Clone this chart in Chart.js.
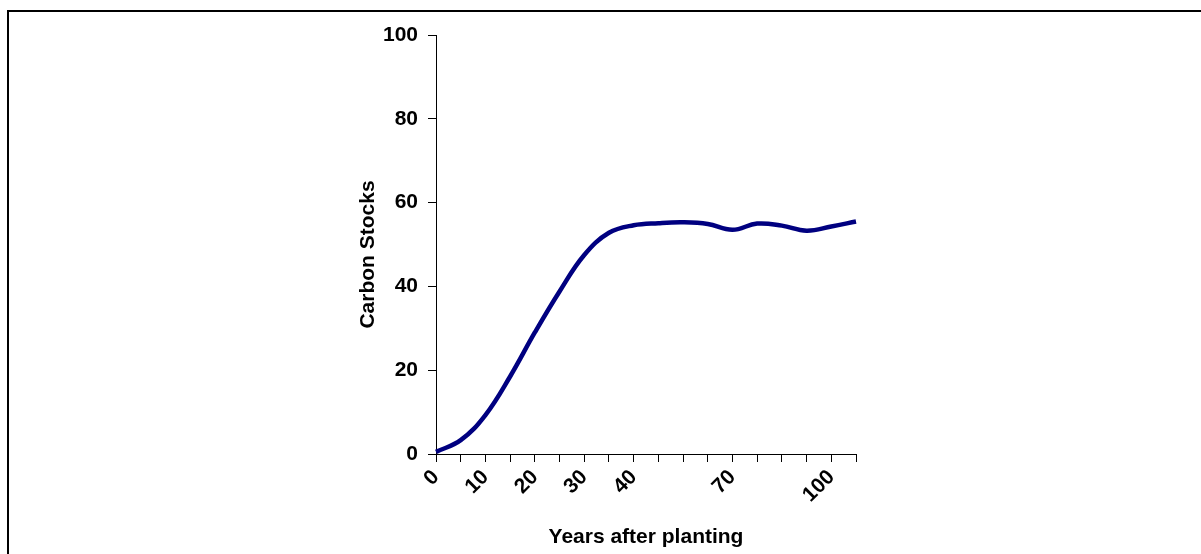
<!DOCTYPE html>
<html>
<head>
<meta charset="utf-8">
<script src="https://cdn.jsdelivr.net/npm/chart.js@4.4.1/dist/chart.umd.min.js"></script>
<style>
  html, body { margin: 0; padding: 0; background: #fff; }
  #wrap { width: 1201px; height: 554px; position: relative; }
</style>
</head>
<body>
<div id="wrap"><canvas id="chart" width="1201" height="554"></canvas></div>
<script>
// tick labels (every other category shown, some left blank as in the original)
const yearLabels = ['0', '', '10', '', '20', '', '30', '', '40', '', '', '', '70', '', '', '', '100', ''];
// carbon stock values, one per category
const carbonStocks = [0.5, 3.3, 9.3, 18.5, 29, 38.8, 47.5, 52.8, 54.6, 55.1, 55.3, 54.9, 53.5, 55.0, 54.5, 53.3, 54.3, 55.5];
const yTicks = [0, 20, 40, 60, 80, 100];
const yTitle = 'Carbon Stocks';

const font = { family: 'Liberation Sans, Arial, sans-serif', weight: 'bold', size: 21 };
const titleFont = { family: 'Liberation Sans, Arial, sans-serif', weight: 'bold', size: 21 };

// outer frame (only top and left edges visible) and the y title, which sits a bit below centre
const framePlugin = {
    id: 'frame',
    beforeDraw(chart) {
        const ctx = chart.ctx;
        ctx.save();
        ctx.fillStyle = '#fff';
        ctx.fillRect(0, 0, chart.width, chart.height);
        ctx.strokeStyle = '#000';
        ctx.lineWidth = 2;
        ctx.beginPath();
        ctx.moveTo(8, chart.height);
        ctx.lineTo(8, 11);
        ctx.lineTo(chart.width, 11);
        ctx.stroke();
        ctx.restore();
    },
    afterDraw(chart) {
        const ctx = chart.ctx;
        const area = chart.chartArea;
        ctx.save();
        ctx.translate(368, (area.top + area.bottom) / 2 + 10);
        ctx.rotate(-Math.PI / 2);
        ctx.fillStyle = '#000';
        ctx.font = 'bold 21px "Liberation Sans", Arial, sans-serif';
        ctx.textAlign = 'center';
        ctx.textBaseline = 'middle';
        ctx.fillText(yTitle, 0, 0);
        ctx.restore();
    }
};

new Chart(document.getElementById('chart').getContext('2d'), {
    type: 'line',
    data: {
        labels: yearLabels,
        datasets: [{
            data: carbonStocks,
            borderColor: '#000080',
            borderWidth: 4.5,
            pointRadius: 0,
            tension: 0.4,
            fill: false
        }]
    },
    options: {
        responsive: false,
        animation: false,
        layout: { padding: { left: 352, right: 345, top: 35, bottom: 0 } },
        plugins: { legend: { display: false }, tooltip: { enabled: false } },
        scales: {
            x: {
                offset: false,
                afterFit(scale) { scale.height = 100; },
                border: { color: '#000', width: 1 },
                grid: { drawOnChartArea: false, drawTicks: true, tickLength: 8, color: '#000' },
                ticks: {
                    autoSkip: false, maxRotation: 45, minRotation: 45,
                    color: '#000', font: font, padding: 3
                },
                title: {
                    display: true, text: 'Years after planting', color: '#000',
                    font: titleFont, padding: { top: 0, bottom: 4 }
                }
            },
            y: {
                min: 0, max: 100,
                afterFit(scale) { scale.width = 84; },
                afterBuildTicks(scale) { scale.ticks = yTicks.map(v => ({ value: v })); },
                border: { color: '#000', width: 1 },
                grid: { drawOnChartArea: false, drawTicks: true, tickLength: 8, color: '#000' },
                ticks: { color: '#000', font: font, padding: 10 }
            }
        }
    },
    plugins: [framePlugin]
});
</script>
</body>
</html>
